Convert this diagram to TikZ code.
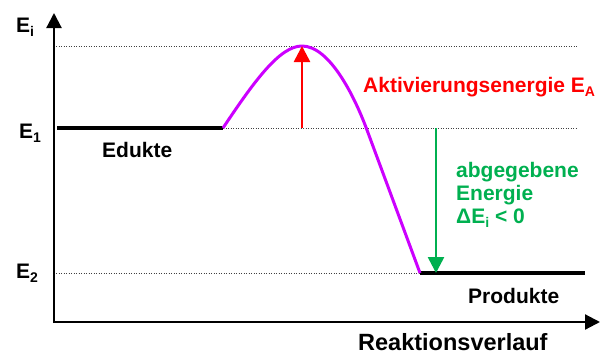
\documentclass[tikz,border=0pt]{standalone}
\usepackage{fontspec}
\setmainfont{Liberation Sans}
\usetikzlibrary{arrows.meta}
\definecolor{curvecol}{RGB}{204,0,255}
\definecolor{gruen}{RGB}{0,176,80}
\definecolor{rot}{RGB}{255,0,0}
% lowered, smaller index letter
\newcommand\lowidx[1]{\raisebox{-0.4ex}{\fontsize{14}{14}\selectfont #1}}

\begin{document}
\begin{tikzpicture}[x=1pt,y=-1pt,
  lbl/.style={font=\fontsize{21}{23}\selectfont\bfseries, inner sep=0pt},
  axis/.style={line width=2.2pt,-{Triangle[length=15pt,width=15pt]}},
  level/.style={line width=3.5pt},
  guide/.style={line width=0.9pt, black!75, dash pattern=on 1pt off 1.5pt},
  reaction/.style={line width=3pt, curvecol, line join=round},
  energyarrow/.style={line width=2.6pt,-{Triangle[length=16pt,width=16pt]}}
]
\useasboundingbox (0,0) rectangle (608,356);

% reference points
\coordinate (origin) at (54,322);
\coordinate (ytop) at (54,13);
\coordinate (xend) at (600,322);
\coordinate (e1left) at (57,128);
\coordinate (start) at (223,128);
\coordinate (peak) at (302,46);
\coordinate (knee) at (367,130);
\coordinate (end) at (420,273);
\coordinate (e2right) at (585,273);
\coordinate (topleft) at (56,46);
\coordinate (topright) at (577,46);
\coordinate (e1right) at (577,128);
\coordinate (e2left) at (56,273);
\coordinate (eabase) at (302,128);
\coordinate (dhtop) at (436,128);
\coordinate (dhbottom) at (436,273);

% guide lines for the energy levels
\draw[guide] (topleft) -- (topright);
\draw[guide] (start) -- (e1right);
\draw[guide] (e2left) -- (end);

% axes
\draw[axis] (54,323.1) -- (ytop);
\draw[axis] (origin) -- (xend);

% energy levels
\draw[level] (e1left) -- (start);
\draw[level] (end) -- (e2right);

% reaction path
\draw[reaction] (start) .. controls (255,80) and (280,46) .. (peak)
  .. controls (330,46) and (355,97.6) .. (knee) -- (end);

% activation energy and released energy
\draw[energyarrow, rot] (eabase) -- (peak);
\draw[energyarrow, gruen] (dhtop) -- (dhbottom);

% labels
\node[lbl, anchor=base west] (lEi) at (16,32) {E\lowidx{i}};
\node[lbl, anchor=base west] (lE1) at (19,138) {E\lowidx{1}};
\node[lbl, anchor=base west] (lE2) at (16,278) {E\lowidx{2}};
\node[lbl, anchor=base west] (edukte) at (102,157) {Edukte};
\node[lbl, anchor=base west] (produkte) at (468,303) {Produkte};
\node[lbl, anchor=base west, rot] (ea) at (363,92) {Aktivierungsenergie E\lowidx{A}};
\node[lbl, anchor=north west, align=left, gruen] (dh) at (456,162)
  {abgegebene\\Energie\\ΔE\lowidx{i} < 0};
\node[lbl, anchor=base west, font=\fontsize{23.5}{26}\selectfont\bfseries] (xlabel) at (358,350.5) {Reaktionsverlauf};
\end{tikzpicture}
\end{document}
